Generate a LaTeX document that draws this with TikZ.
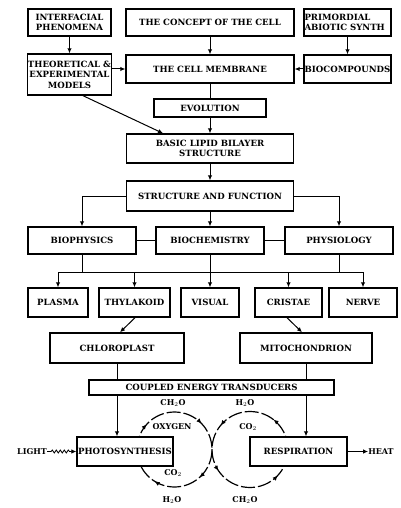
\documentclass[tikz,border=0pt]{standalone}
\usepackage{fontspec}
\setmainfont{DejaVu Serif}
\usetikzlibrary{arrows.meta,decorations.pathmorphing,decorations.markings}

\begin{document}
\begin{tikzpicture}[x=1pt,y=1pt,
  blk/.style={draw,line width=1.4pt,fill=white,inner sep=0.5pt,align=center,
    font=\fontsize{8.6}{10.5}\selectfont\bfseries},
  lbl/.style={inner sep=0pt,font=\fontsize{8}{9}\selectfont\bfseries},
  arr/.style={line width=1pt,-{Latex[length=5pt,width=4.5pt]}},
  lin/.style={line width=1pt},
  cyc/.style={line width=1.2pt,dash pattern=on 14pt off 3pt}]
  \useasboundingbox (0,0) rectangle (400,-508);
  % the two cycles, under the boxes
  \draw[cyc,postaction={decorate},decoration={markings,
      mark=at position 0.117 with {\arrow{Latex[length=5pt,width=4.5pt]}},
      mark=at position 0.378 with {\arrow{Latex[length=5pt,width=4.5pt]}},
      mark=at position 0.633 with {\arrow{Latex[length=5pt,width=4.5pt]}},
      mark=at position 0.839 with {\arrow{Latex[length=5pt,width=4.5pt]}}}]
    (137,-449.5) arc[start angle=180,end angle=-180,radius=37.5];
  \draw[cyc,postaction={decorate},decoration={markings,
      mark=at position 0.144 with {\arrow{Latex[length=5pt,width=4.5pt]}},
      mark=at position 0.39 with {\arrow{Latex[length=5pt,width=4.5pt]}},
      mark=at position 0.594 with {\arrow{Latex[length=5pt,width=4.5pt]}},
      mark=at position 0.88 with {\arrow{Latex[length=5pt,width=4.5pt]}}}]
    (288,-449.5) arc[start angle=0,end angle=360,radius=38];

  \node[blk,minimum width=83pt,minimum height=27pt] (interf) at (69.5,-22.5) {INTERFACIAL\\PHENOMENA};
  \node[blk,minimum width=168pt,minimum height=27pt] (concept) at (210,-22.5) {THE CONCEPT OF THE CELL};
  \node[blk,minimum width=87pt,minimum height=27pt,text width=86pt,align=left] (primord) at (347.5,-22.5) {PRIMORDIAL\\ABIOTIC SYNTH};
  \node[blk,minimum width=83pt,minimum height=41pt] (theor) at (69.5,-74.5) {THEORETICAL \&\\EXPERIMENTAL\\MODELS};
  \node[blk,minimum width=168pt,minimum height=28pt] (membrane) at (210,-69) {THE CELL MEMBRANE};
  \node[blk,minimum width=87pt,minimum height=28pt] (biocomp) at (347.5,-69) {BIOCOMPOUNDS};
  \node[blk,minimum width=112pt,minimum height=18pt] (evol) at (210,-108) {EVOLUTION};
  \node[blk,minimum width=167pt,minimum height=29pt] (basic) at (210,-148.5) {BASIC LIPID BILAYER\\STRUCTURE};
  \node[blk,minimum width=167pt,minimum height=30pt] (sandf) at (210,-196) {STRUCTURE AND FUNCTION};
  \node[blk,minimum width=108pt,minimum height=27pt] (biophys) at (82,-240.5) {BIOPHYSICS};
  \node[blk,minimum width=108pt,minimum height=27pt] (biochem) at (210,-240.5) {BIOCHEMISTRY};
  \node[blk,minimum width=108pt,minimum height=27pt] (physio) at (339,-240.5) {PHYSIOLOGY};
  \node[blk,minimum width=60pt,minimum height=29pt] (plasma) at (58,-302.5) {PLASMA};
  \node[blk,minimum width=71pt,minimum height=29pt] (thyl) at (134.5,-302.5) {THYLAKOID};
  \node[blk,minimum width=58pt,minimum height=29pt] (visual) at (210,-302.5) {VISUAL};
  \node[blk,minimum width=67pt,minimum height=29pt] (cristae) at (288.5,-302.5) {CRISTAE};
  \node[blk,minimum width=68pt,minimum height=29pt] (nerve) at (363,-302.5) {NERVE};
  \node[blk,minimum width=134pt,minimum height=30pt] (chloro) at (117,-348) {CHLOROPLAST};
  \node[blk,minimum width=132pt,minimum height=30pt] (mito) at (306,-348) {MITOCHONDRION};
  \node[blk,minimum width=245pt,minimum height=15pt] (coupled) at (211.5,-387.5) {COUPLED ENERGY TRANSDUCERS};
  \node[blk,minimum width=96pt,minimum height=29pt] (photo) at (125,-451.5) {PHOTOSYNTHESIS};
  \node[blk,minimum width=97pt,minimum height=29pt] (resp) at (298.5,-451.5) {RESPIRATION};
  \node[lbl] (light) at (32,-451.5) {LIGHT};
  \node[lbl] (heat) at (381,-451.5) {HEAT};
  \coordinate (bus) at (0,-272);

  % cycle labels
  \node[lbl] (ch2oa) at (173,-403) {CH$_2$O};
  \node[lbl] (oxy) at (172,-427) {OXYGEN};
  \node[lbl] (co2a) at (173,-473) {CO$_2$};
  \node[lbl] (h2oa) at (172,-500) {H$_2$O};
  \node[lbl] (h2ob) at (245,-403) {H$_2$O};
  \node[lbl] (co2b) at (248,-427) {CO$_2$};
  \node[lbl] (ch2ob) at (245,-500) {CH$_2$O};

  \draw[arr] (interf) -- (theor);
  \draw[arr] (concept) -- (membrane);
  \draw[arr] (primord) -- (biocomp);
  \draw[arr] (theor.east |- membrane) -- (membrane.west);
  \draw[arr] (biocomp) -- (membrane);
  \draw[lin] (membrane) -- (evol);
  \draw[arr] (evol) -- (basic);
  \draw[arr] ([xshift=13.5pt]theor.south) -- ([xshift=-47pt]basic.north);
  \draw[arr] (basic) -- (sandf);
  \draw[arr] (sandf.west) -| (biophys);
  \draw[arr] (sandf) -- (biochem);
  \draw[arr] (sandf.east) -| (physio);
  \draw[lin] (biophys) -- (biochem) -- (physio);
  \draw[lin] (biophys) -- (biophys |- bus);
  \draw[lin] (physio) -- (physio |- bus);
  \draw[lin] (plasma |- bus) -- (nerve |- bus);
  \draw[arr] (biochem) -- (visual);
  \foreach \b in {plasma,thyl,cristae,nerve}
    \draw[arr] (\b |- bus) -- (\b);
  \draw[arr] ([xshift=0.5pt]thyl.south) -- ([xshift=3pt]chloro.north);
  \draw[arr] ([xshift=-1.5pt]cristae.south) -- ([xshift=-4pt]mito.north);
  \draw[lin] (chloro) -- (chloro |- coupled.north);
  \draw[lin] (mito) -- (mito |- coupled.north);
  \draw[arr] (chloro |- coupled.south) -- (chloro |- photo.north);
  \draw[arr] (mito |- coupled.south) -- (mito |- resp.north);
  \draw[line width=0.8pt,-{Latex[length=5pt,width=4.5pt]},decorate,
    decoration={snake,amplitude=1.5pt,segment length=4pt,pre length=4pt,post length=5pt}] (light) -- (photo);
  \draw[arr] (resp) -- (heat);
\end{tikzpicture}
\end{document}
